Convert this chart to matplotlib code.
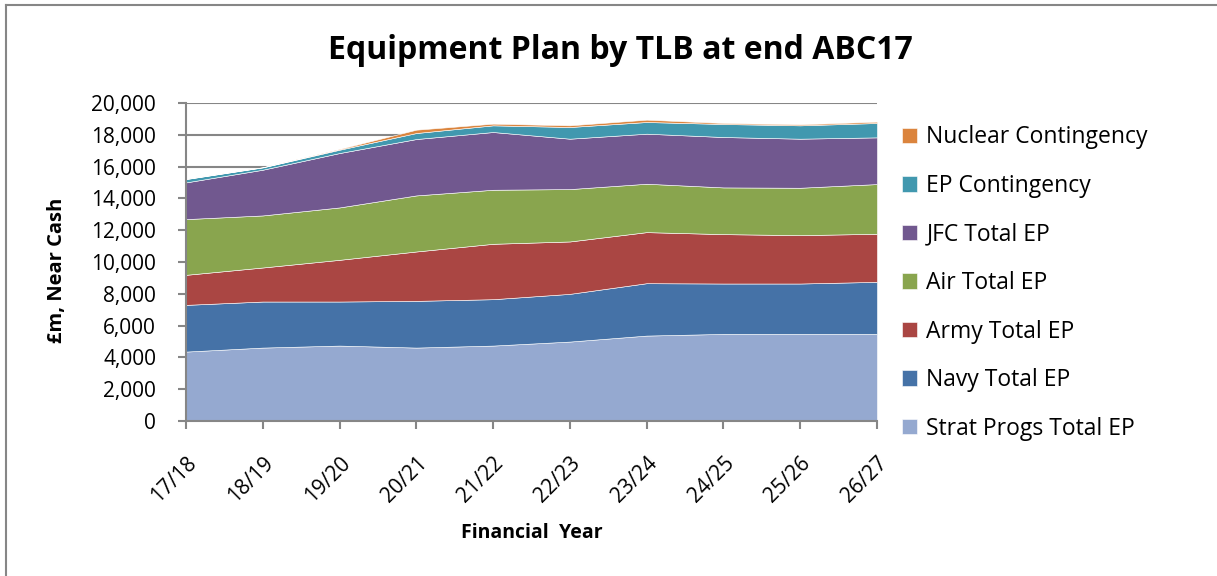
import matplotlib.pyplot as plt
import matplotlib.lines as mlines
import numpy as np

plt.rcParams['font.family'] = ['Open Sans', 'DejaVu Sans']

years = ["17/18", "18/19", "19/20", "20/21", "21/22",
         "22/23", "23/24", "24/25", "25/26", "26/27"]

strat = [4365, 4617, 4743, 4617, 4743, 4995, 5372, 5477, 5477, 5477]
navy = [2938, 2896, 2770, 2938, 2917, 3001, 3295, 3169, 3169, 3274]
army = [1889, 2141, 2623, 3106, 3484, 3295, 3211, 3106, 3043, 3022]
air = [3505, 3274, 3295, 3526, 3399, 3294, 3043, 2938, 2980, 3127]
jfc = [2308, 2875, 3421, 3546, 3631, 3169, 3148, 3169, 3085, 2938]
ep_cont = [210, 147, 210, 378, 420, 735, 735, 819, 840, 903]
nuclear = [10, 10, 42, 210, 105, 105, 147, 63, 63, 84]

labels = ["Strat Progs Total EP", "Navy Total EP", "Army Total EP",
          "Air Total EP", "JFC Total EP", "EP Contingency",
          "Nuclear Contingency"]
colors = ["#95A9D0", "#4572A7", "#AA4643", "#89A54E",
          "#71588F", "#4198AF", "#DB843D"]

fig = plt.figure(figsize=(12.17, 5.76), dpi=100)
ax = fig.add_axes([0.1528, 0.2691, 0.5678, 0.5521])

x = np.arange(len(years))
ax.stackplot(x, strat, navy, army, air, jfc, ep_cont, nuclear,
             colors=colors, labels=labels,
             edgecolor="white", linewidth=0.4, zorder=2)

ax.set_xlim(0, len(years) - 1)
ax.set_ylim(0, 20000)
ax.set_yticks(np.arange(0, 20001, 2000))
ax.set_yticklabels([f"{v:,}" for v in range(0, 20001, 2000)])
ax.set_xticks(x)
ax.set_xticklabels(years, rotation=45, ha="right",
                   rotation_mode="anchor")

ax.grid(axis="y", color="#868686", linewidth=1.5, zorder=0)
ax.set_axisbelow(True)
for side in ["top", "right"]:
    ax.spines[side].set_visible(False)
for side in ["left", "bottom"]:
    ax.spines[side].set_color("#868686")
    ax.spines[side].set_linewidth(1.5)
ax.tick_params(axis="both", colors="#868686", length=5.5, width=1.5,
               labelcolor="black", labelsize=15)
ax.tick_params(axis="y", pad=16)
ax.tick_params(axis="x", pad=17)

ax.set_xlabel("Financial  Year", fontsize=14, fontweight="bold")
ax.xaxis.label.set_va("center")
ax.xaxis.set_label_coords(0.5, -0.352)
ax.set_ylabel("£m, Near Cash", fontsize=14.5, fontweight="bold")
ax.yaxis.label.set_va("center")
ax.yaxis.set_label_coords(-0.187, 0.475)

fig.text(0.5094, 0.913, "Equipment Plan by TLB at end ABC17",
         fontsize=23, fontweight="bold", ha="center", va="center")

handles, labs = ax.get_legend_handles_labels()
leg = fig.legend(handles[::-1], labs[::-1], loc="upper left",
                 bbox_to_anchor=(0.7245, 0.818), frameon=False,
                 fontsize=16.5, handlelength=0.65, handleheight=0.65,
                 handletextpad=0.4, labelspacing=1.07)

# chart-area border: only top and left edges show
fig.add_artist(mlines.Line2D([0.0053, 1.0], [0.992, 0.992],
                             transform=fig.transFigure,
                             color="#868686", linewidth=1.5))
fig.add_artist(mlines.Line2D([0.0053, 0.0053], [0.0, 0.992],
                             transform=fig.transFigure,
                             color="#868686", linewidth=1.5))

fig.savefig("out.png", dpi=100)
